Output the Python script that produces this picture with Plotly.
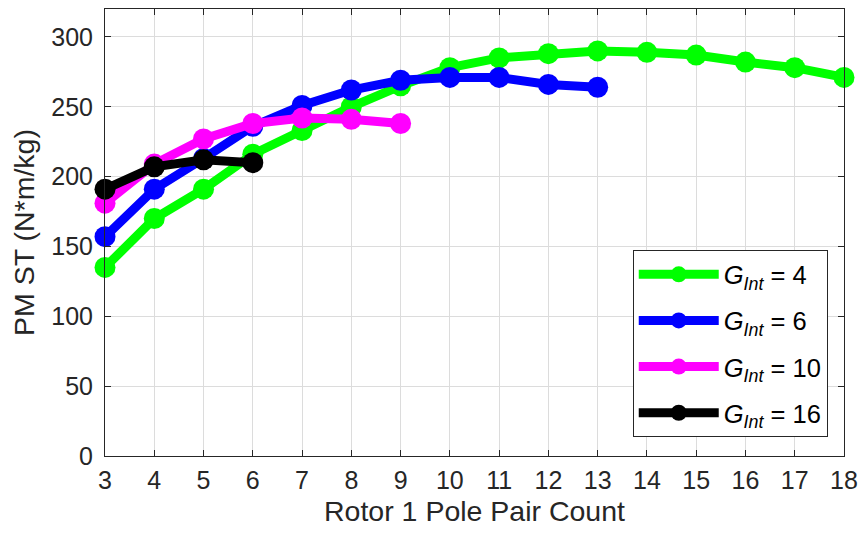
import plotly.graph_objects as go

x_g4 = [3, 4, 5, 6, 7, 8, 9, 10, 11, 12, 13, 14, 15, 16, 17, 18]
y_g4 = [135, 170, 191, 216, 233, 250, 265, 278, 285, 288, 290, 289, 287, 282, 278, 271]
x_g6 = [3, 4, 5, 6, 7, 8, 9, 10, 11, 12, 13]
y_g6 = [157, 191, 213, 236, 251, 262, 269, 271, 271, 266, 264]
x_g10 = [3, 4, 5, 6, 7, 8, 9]
y_g10 = [181, 209, 227, 238, 242, 241, 238]
x_g16 = [3, 4, 5, 6]
y_g16 = [191, 207, 212, 210]

series = [
    ("<i>G</i><sub><i>Int</i></sub> = 4", x_g4, y_g4, "#00ff00"),
    ("<i>G</i><sub><i>Int</i></sub> = 6", x_g6, y_g6, "#0000ff"),
    ("<i>G</i><sub><i>Int</i></sub> = 10", x_g10, y_g10, "#ff00ff"),
    ("<i>G</i><sub><i>Int</i></sub> = 16", x_g16, y_g16, "#000000"),
]

x_ticks = list(range(3, 19))
y_ticks = [0, 50, 100, 150, 200, 250, 300]

FONT = "Liberation Sans, Arial, sans-serif"

fig = go.Figure()
for i, (name, xs, ys, c) in enumerate(series):
    fig.add_trace(go.Scatter(
        x=xs, y=ys, mode="lines+markers", name=name,
        legendgroup=f"g{i}",
        line=dict(color=c, width=9),
        marker=dict(color=c, size=21),
        cliponaxis=False,
    ))

axis_common = dict(
    showline=True, linecolor="#262626", linewidth=1, mirror="allticks",
    ticks="inside", ticklen=6, tickcolor="#262626",
    showgrid=True, gridcolor="#dcdcdc", gridwidth=1,
    zeroline=False,
    tickfont=dict(family=FONT, size=25, color="#262626"),
)

fig.update_layout(
    width=866, height=540,
    margin=dict(l=105, r=19, t=8, b=84),
    paper_bgcolor="white", plot_bgcolor="white",
    font=dict(family=FONT, color="#262626"),
    xaxis=dict(range=[3, 18], tickvals=x_ticks, ticklabelstandoff=2,
               title=dict(text="Rotor 1 Pole Pair Count", font=dict(size=28.5, color="#262626"), standoff=8),
               **axis_common),
    yaxis=dict(range=[0, 320], tickvals=y_ticks, ticklabelstandoff=6,
               title=dict(text="PM ST (N*m/kg)", font=dict(size=28.5, color="#262626"), standoff=8),
               **axis_common),
    legend=dict(
        x=0.978, y=0.042, xanchor="right", yanchor="bottom",
        bgcolor="white", bordercolor="#262626", borderwidth=1,
        font=dict(size=25.5, color="#000000", family=FONT),
        itemwidth=80, tracegroupgap=10,
    ),
    showlegend=True,
)

fig.write_html("out.html")
